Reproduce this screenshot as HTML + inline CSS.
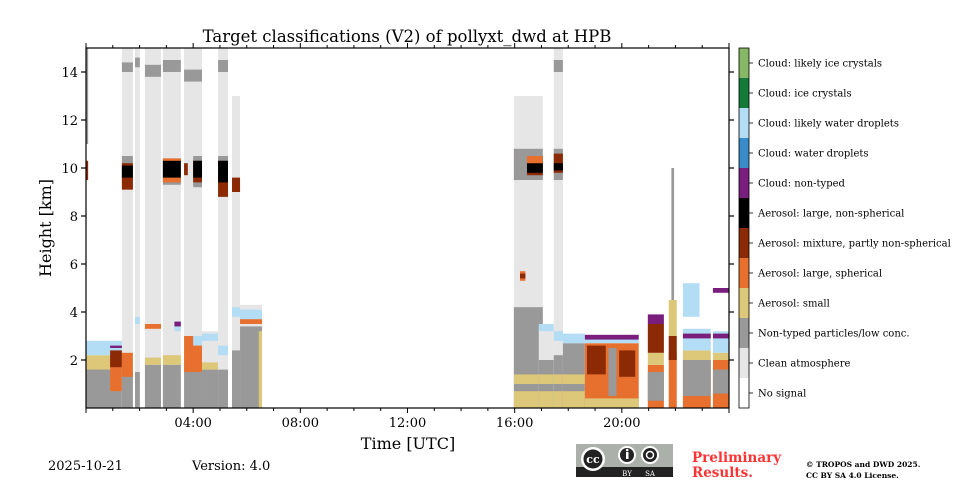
<!DOCTYPE html>
<html><head><meta charset="utf-8"><style>
body{margin:0;background:#fff}
svg text{font-family:"DejaVu Serif","Liberation Serif",serif}
</style></head><body>
<svg id="chart" width="960" height="480" viewBox="0 0 960 480" xmlns="http://www.w3.org/2000/svg">
<rect width="960" height="480" fill="#fff"/>
<g id="marks"></g>
<g id="axes"></g>
<g id="cbar"></g>
<text x="407" y="42" font-size="16.5" text-anchor="middle">Target classifications (V2) of pollyxt_dwd at HPB</text>
<text x="408" y="449" font-size="16" text-anchor="middle">Time [UTC]</text>
<text transform="translate(51,228) rotate(-90)" font-size="16" text-anchor="middle">Height [km]</text>
<text x="48" y="470" font-size="13">2025-10-21</text>
<text x="192" y="470" font-size="13">Version: 4.0</text>
<g>
<rect x="576" y="444" width="97" height="33" fill="#abb1aa"/>
<rect x="576" y="467" width="97" height="10" fill="#222"/>
<circle cx="593" cy="459" r="12" fill="#fff"/><circle cx="593" cy="459" r="9.5" fill="#222"/>
<text x="593" y="463" font-size="11" font-weight="bold" fill="#fff" text-anchor="middle" font-family="Liberation Sans">cc</text>
<circle cx="627" cy="455" r="9" fill="#fff"/><circle cx="627" cy="455" r="7" fill="#222"/>
<rect x="626" y="452" width="2.5" height="7" fill="#fff"/><circle cx="627.2" cy="450" r="1.3" fill="#fff"/>
<circle cx="650" cy="455" r="9" fill="#fff"/><circle cx="650" cy="455" r="7" fill="#222"/>
<circle cx="650" cy="455" r="3.5" fill="none" stroke="#fff" stroke-width="1.5"/>
<text x="627" y="476" font-size="7" fill="#fff" text-anchor="middle" font-family="Liberation Sans">BY</text>
<text x="650" y="476" font-size="7" fill="#fff" text-anchor="middle" font-family="Liberation Sans">SA</text>
</g>
<text x="692" y="462" font-size="13.5" font-weight="bold" fill="#ff3333">Preliminary</text>
<text x="692" y="477" font-size="13.5" font-weight="bold" fill="#ff3333">Results.</text>
<text x="806" y="467" font-size="7.5" font-weight="bold">© TROPOS and DWD 2025.</text>
<text x="806" y="478" font-size="7.5" font-weight="bold">CC BY SA 4.0 License.</text>
</svg>
<script>
const classNames=["No signal","Clean atmosphere","Non-typed particles/low conc.","Aerosol: small","Aerosol: large, spherical","Aerosol: mixture, partly non-spherical","Aerosol: large, non-spherical","Cloud: non-typed","Cloud: water droplets","Cloud: likely water droplets","Cloud: ice crystals","Cloud: likely ice crystals"];
const classColors=["#ffffff","#e6e6e6","#999999","#dcc878","#e8702e","#8b2a05","#000000","#7a1e7e","#3a8bc9","#b3dcf5","#137a38","#86b865"];
const xTickHours=[4,8,12,16,20];
const xTickLabels=["04:00","08:00","12:00","16:00","20:00"];
const yTicks=[2,4,6,8,10,12,14];
// segments: [startHour, endHour, [[class, bottomKm, topKm], ...]]
const segments=[
[0,1.34,[[2,0,1.9],[3,1.6,2.2],[9,2.2,2.8]]],
[0,0.08,[[2,11,15],[5,9.5,10.3]]],
[0.9,1.45,[[4,0.7,2.2],[5,1.7,2.4],[7,2.5,2.6]]],
[1.34,1.75,[[1,0,15],[2,0,1.5],[2,14,14.4],[2,9.1,10.5],[5,9.1,10.2],[6,9.6,10.1],[4,1.3,2.3]]],
[1.83,2.01,[[1,0,15],[2,0,1.5],[2,14.2,14.6],[9,3.5,3.8]]],
[2.2,2.8,[[1,0,15],[2,0,1.8],[3,1.8,2.1],[2,13.8,14.3],[4,3.3,3.5]]],
[2.87,3.54,[[1,0,15],[2,0,1.8],[3,1.8,2.2],[2,14,14.5],[2,9.3,10.4],[4,9.4,10.4],[6,9.6,10.3]]],
[3.3,3.54,[[9,3.2,3.6],[7,3.4,3.6]]],
[3.66,4.33,[[1,0,15],[2,0,1.8],[3,1.8,2.2],[2,13.6,14.1],[4,1.5,3.0]]],
[3.66,3.8,[[5,9.7,10.2]]],
[4.0,4.33,[[2,9.2,10.5],[5,9.4,10.3],[6,9.6,10.3],[9,2.6,3.0]]],
[4.33,4.93,[[1,0,3.2],[2,0,1.6],[3,1.6,1.9],[9,2.8,3.1]]],
[4.93,5.3,[[1,0,15],[2,0,1.6],[2,14,14.5],[2,8.8,10.5],[5,8.8,10.3],[6,9.4,10.3],[9,2.2,2.6]]],
[5.45,5.75,[[1,0,13],[2,0,2.4],[5,9.0,9.6],[9,3.8,4.2]]],
[5.75,6.57,[[1,0,4.3],[2,0,3.4],[9,3.6,4.1],[4,3.5,3.7]]],
[6.45,6.57,[[3,0,3.2]]],
[15.97,17.05,[[1,0,13],[2,0,4.2],[2,9.5,10.8],[3,0,0.7],[3,1.0,1.4]]],
[16.46,17.05,[[5,9.7,10.5],[6,9.8,10.2],[4,10.2,10.5]]],
[16.2,16.4,[[4,5.3,5.7],[5,5.4,5.6]]],
[16.9,17.46,[[1,0,3.3],[2,0,2.0],[3,0,0.7],[3,1.0,1.4],[9,3.2,3.5]]],
[17.46,17.8,[[1,0,15],[2,0,2.2],[3,0,0.7],[3,1.0,1.4],[2,9.5,10.8],[5,9.8,10.6],[6,9.9,10.2],[2,14,14.5],[9,2.8,3.2]]],
[17.8,18.62,[[2,0,2.7],[3,0,0.7],[3,1.0,1.4],[9,2.7,3.1]]],
[18.62,20.63,[[4,0,2.7],[3,0,0.4],[9,2.7,3.0],[7,2.85,3.05]]],
[18.7,19.4,[[5,1.4,2.6]]],
[19.5,19.8,[[2,0.5,2.5]]],
[19.9,20.5,[[5,1.3,2.4]]],
[20.97,21.57,[[4,0,1.8],[2,0.3,1.5],[3,1.8,2.3],[5,2.3,3.5],[7,3.5,3.9]]],
[21.75,22.05,[[4,0,2.3],[5,2.0,3.0],[3,3.0,4.5]]],
[21.85,21.95,[[2,4.5,10]]],
[22.28,23.32,[[4,0,2.0],[2,0.5,2.0],[3,2.0,2.4],[9,2.4,3.3],[7,2.9,3.1]]],
[22.28,22.9,[[9,3.8,5.2]]],
[23.4,24,[[4,0,2.0],[2,0.6,1.6],[3,2.0,2.3],[9,2.3,3.2],[7,2.9,3.1],[7,4.8,5.0]]]
];
const X0=86,X1=729,Y0=408,Y1=48;
const xS=h=>X0+(X1-X0)*h/24;
const yS=k=>Y0-(Y0-Y1)*k/15;
const NS="http://www.w3.org/2000/svg";
function mk(tag,attrs,parent){const e=document.createElementNS(NS,tag);for(const k in attrs)e.setAttribute(k,attrs[k]);parent.appendChild(e);return e;}
const marks=document.getElementById('marks');
segments.forEach(seg=>{
  seg[2].forEach(L=>{
    const r=mk('rect',{x:xS(seg[0]),y:yS(L[2]),width:xS(seg[1])-xS(seg[0]),height:yS(L[1])-yS(L[2]),fill:classColors[L[0]]},marks);
    
    
  });
});
const ax=document.getElementById('axes');
const frame=mk('rect',{x:X0,y:Y1,width:X1-X0,height:Y0-Y1,fill:'none',stroke:'#000','stroke-width':1.2},ax);


for(let h=0;h<=24;h++){
  const major=h%4===0, len=major?5:3, x=xS(h);
  mk('line',{x1:x,x2:x,y1:Y0,y2:Y0+len,stroke:'#000','stroke-width':1},ax);
  mk('line',{x1:x,x2:x,y1:Y1,y2:Y1-len,stroke:'#000','stroke-width':1},ax);
}
xTickHours.forEach((h,i)=>{
  const t=mk('text',{x:xS(h),y:Y0+19,'font-size':13,'text-anchor':'middle'},ax);
  t.textContent=xTickLabels[i];
  
  
});
yTicks.forEach(k=>{
  const y=yS(k);
  mk('line',{x1:X0-5,x2:X0,y1:y,y2:y,stroke:'#000','stroke-width':1.2},ax);
  mk('line',{x1:X1,x2:X1+5,y1:y,y2:y,stroke:'#000','stroke-width':1.2},ax);
  const t=mk('text',{x:X0-8,y:y+5,'font-size':13,'text-anchor':'end'},ax);
  t.textContent=String(k);
  
  
});
const cb=document.getElementById('cbar');
const n=classNames.length, ch=(Y0-Y1)/n;
classNames.forEach((nm,i)=>{
  const y=Y0-(i+1)*ch;
  const r=mk('rect',{x:739,y:y,width:10,height:ch,fill:classColors[i]},cb);
  
  
  mk('line',{x1:749,x2:753,y1:y+ch/2,y2:y+ch/2,stroke:'#000','stroke-width':0.8},cb);
  const t=mk('text',{x:758,y:y+ch/2+3.5,'font-size':10},cb);
  t.textContent=nm;
  
  
});
const cf=mk('rect',{x:739,y:Y1,width:10,height:Y0-Y1,fill:'none',stroke:'#000','stroke-width':0.8},cb);


</script>
</body></html>
